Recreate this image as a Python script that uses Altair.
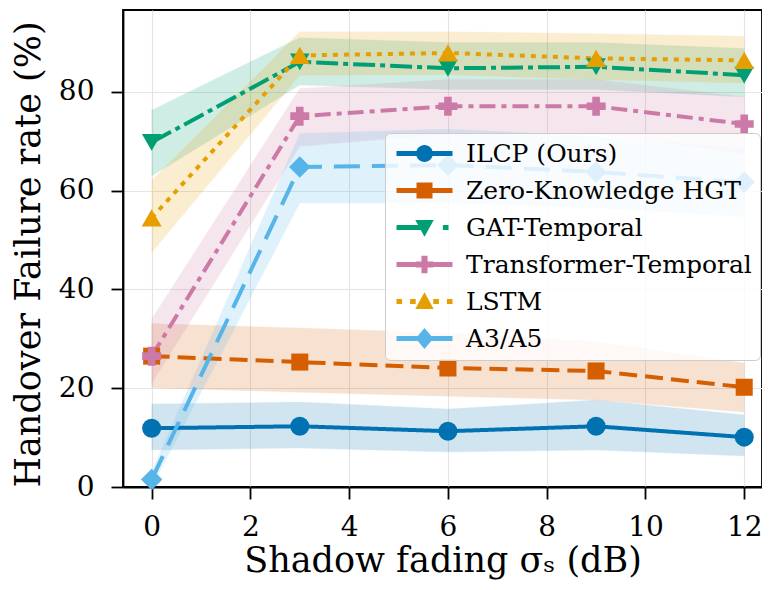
import altair as alt
import pandas as pd

# ---------------- data ----------------
sigma = [0, 3, 6, 9, 12]
series_names = ["ILCP (Ours)", "Zero-Knowledge HGT", "GAT-Temporal",
                "Transformer-Temporal", "LSTM", "A3/A5"]

ilcp_mean = [11.9, 12.3, 11.3, 12.3, 10.1]
ilcp_lo = [7.5, 7.9, 7.1, 7.5, 6.3]
ilcp_hi = [16.8, 17.2, 15.8, 17.6, 14.6]

zk_mean = [26.5, 25.3, 24.1, 23.5, 20.2]
zk_lo = [20.1, 19.2, 18.4, 17.6, 15.2]
zk_hi = [33.1, 32.2, 31.2, 29.4, 25.1]

gat_mean = [69.8, 86.1, 84.8, 85.1, 83.4]
gat_lo = [63.0, 81.4, 80.5, 80.5, 79.0]
gat_hi = [76.3, 91.0, 90.0, 90.0, 88.8]

trf_mean = [26.5, 75.1, 77.1, 77.1, 73.5]
trf_lo = [21.0, 69.0, 71.5, 71.5, 67.5]
trf_hi = [34.0, 80.7, 82.5, 82.5, 79.0]

lstm_mean = [54.5, 87.4, 87.9, 86.8, 86.4]
lstm_lo = [47.5, 83.4, 83.5, 82.5, 81.8]
lstm_hi = [62.0, 92.2, 92.2, 91.8, 91.3]

a3_mean = [1.5, 64.8, 65.2, 63.8, 61.7]
a3_lo = [0.0, 57.5, 57.5, 56.5, 54.7]
a3_hi = [3.0, 71.6, 72.5, 71.0, 68.6]

means = [ilcp_mean, zk_mean, gat_mean, trf_mean, lstm_mean, a3_mean]
los = [ilcp_lo, zk_lo, gat_lo, trf_lo, lstm_lo, a3_lo]
his = [ilcp_hi, zk_hi, gat_hi, trf_hi, lstm_hi, a3_hi]

x_ticks = [0, 2, 4, 6, 8, 10, 12]
y_ticks = [0, 20, 40, 60, 80]

# ---------------- styles ----------------
colors = ["#0072B2", "#D55E00", "#009E73", "#CC79A7", "#E69F00", "#56B4E9"]
dashes = [[1, 0], [18, 8], [22, 5, 5, 5], [16, 6, 5, 6], [5, 6], [26, 12]]
shapes = ["circle", "square", "triangle-down", "cross", "triangle-up", "diamond"]
sizes = [361, 290, 380, 361, 400, 460]


def rect(a, b, h=0.31):
    return f"M{a},{-h}H{b}V{h}H{a}Z"


full = rect(-3.5, 3.5)
legend_lines = [
    full,
    rect(-3.5, -0.3) + rect(0.3, 3.5),
    rect(-3.5, -0.3) + rect(2.3, 3.0),
    full,
    rect(-3.5, -2.8) + rect(-1.8, -1.1) + rect(1.1, 1.8) + rect(2.8, 3.5),
    full,
]
legend_markers = [
    "M-1.05,0A1.05,1.05 0 1,1 1.05,0A1.05,1.05 0 1,1 -1.05,0Z",
    "M-1,-1H1V1H-1Z",
    "M-1.15,-0.95H1.15L0,1.15Z",
    "M-0.38,-1.1H0.38V-0.38H1.1V0.38H0.38V1.1H-0.38V0.38H-1.1V-0.38H-0.38Z",
    "M0,-1.15L1.15,0.95H-1.15Z",
    "M0,-1.3L1.1,0L0,1.3L-1.1,0Z",
]
legend_paths = [l + m for l, m in zip(legend_lines, legend_markers)]

rows = []
for i, name in enumerate(series_names):
    for j, xv in enumerate(sigma):
        rows.append({"sigma": xv, "series": name, "order": i,
                     "mean": means[i][j], "lo": los[i][j], "hi": his[i][j]})
df = pd.DataFrame(rows)

FONT = "DejaVu Serif"
xscale = alt.Scale(domain=[-0.58, 12.36], nice=False, zero=False)
yscale = alt.Scale(domain=[0, 96.6], nice=False)
cscale = alt.Scale(domain=series_names, range=colors)

X = alt.X("sigma:Q", scale=xscale,
          axis=alt.Axis(values=x_ticks, title="Shadow fading σₛ (dB)"))
Y = alt.Y("mean:Q", scale=yscale,
          axis=alt.Axis(values=y_ticks, title="Handover Failure rate (%)",
                        titleY=244))

leg = alt.Legend(
    title=None, orient="none", legendX=262, legendY=123,
    labelFont=FONT, labelFontSize=25, labelColor="black",
    symbolSize=256, symbolOpacity=1, symbolStrokeWidth=0,
    symbolOffset=19, labelOffset=29, rowPadding=11, padding=8,
    fillColor="rgba(255,255,255,0.8)", strokeColor="#cccccc",
    cornerRadius=5, labelLimit=400,
)
COLOR = alt.Color("series:N", scale=cscale, legend=leg)

base = alt.Chart(df)

bands = base.mark_area(opacity=0.18, strokeWidth=1.2, strokeOpacity=0.25).encode(
    x=X,
    y=alt.Y("lo:Q", scale=yscale),
    y2="hi:Q",
    color=COLOR,
    stroke=alt.Stroke("series:N", scale=cscale, legend=None),
    detail="series:N",
)

lines = base.mark_line(strokeWidth=4, strokeCap="butt").encode(
    x=X,
    y=Y,
    color=COLOR,
    strokeDash=alt.StrokeDash("series:N",
                              scale=alt.Scale(domain=series_names, range=dashes),
                              legend=None),
    order="sigma:Q",
)

# markers: one layer per series (shape/size as mark properties)
point_layers = []
for name, shp, sz in zip(series_names, shapes, sizes):
    point_layers.append(
        base.transform_filter(alt.datum.series == name)
        .mark_point(filled=True, opacity=1, shape=shp, size=sz)
        .encode(x=X, y=Y, color=COLOR)
    )

# legend-only layer: filters out every row, so it draws nothing in the plot;
# its shape scale gives the legend symbols (line + marker)
legend_layer = base.transform_filter("datum.sigma < -100").mark_point(
    filled=True, size=256, opacity=1
).encode(
    x=X,
    y=Y,
    color=COLOR,
    shape=alt.Shape("series:N",
                    scale=alt.Scale(domain=series_names, range=legend_paths),
                    legend=leg),
)

chart = alt.layer(bands, lines, *point_layers, legend_layer).properties(
    width=639, height=477,
    autosize=alt.AutoSizeParams(type="none"),
    padding={"left": 115, "top": 2, "right": 0, "bottom": 93},
).configure_view(
    stroke="black", strokeWidth=1.8
).configure_axis(
    labelFont=FONT, labelFontSize=28, labelColor="black",
    titleFont=FONT, titleFontWeight="normal", titleColor="black",
    domainColor="black", domainWidth=1.8,
    tickColor="black", tickWidth=1.8, tickSize=12,
    gridColor="#e4e4e4", gridWidth=1.2, grid=True,
).configure_axisY(
    titlePadding=12, labelPadding=17, titleFontSize=35
).configure_axisX(
    titlePadding=2, labelPadding=14, titleFontSize=35
)

chart.save("out.html", embed_options={"renderer": "svg", "actions": False})
